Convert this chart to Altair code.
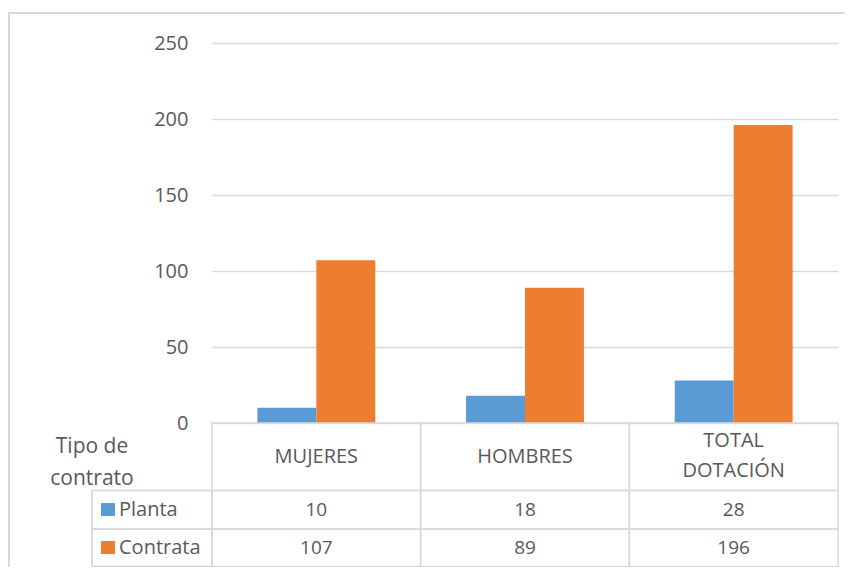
import altair as alt
import pandas as pd

categories = ["MUJERES", "HOMBRES", "TOTAL DOTACIÓN"]
header_labels = ["MUJERES", "HOMBRES", "TOTAL\nDOTACIÓN"]
series = ["Planta", "Contrata"]
planta = [10, 18, 28]
contrata = [107, 89, 196]
colors = ["#5B9BD5", "#ED7D31"]
y_ticks = [0, 50, 100, 150, 200, 250]
table_title = "Tipo de\ncontrato"

FONT = "Open Sans"
TXT = "#595959"
GRID = "#d9d9d9"

rows = []
for s, vals in zip(series, [planta, contrata]):
    for c, v in zip(categories, vals):
        rows.append({"category": c, "series": s, "value": v})
df = pd.DataFrame(rows)
hdr = pd.DataFrame({"category": categories, "header": header_labels})
leg = pd.DataFrame({"series": series})
ttl = pd.DataFrame({"t": [table_title]})

W, H = 626, 524
ZERO = 380

xscale = alt.Scale(domain=categories, paddingInner=0, paddingOuter=0)
cscale = alt.Scale(domain=series, range=colors)

bars = alt.Chart(df).mark_bar().encode(
    x=alt.X("category:N", scale=xscale, axis=None, sort=categories),
    xOffset=alt.XOffset("series:N", scale=alt.Scale(domain=series, paddingInner=0, paddingOuter=0.77)),
    y=alt.Y("value:Q", scale=alt.Scale(domain=[0, 250], range=[ZERO, 0]),
            axis=alt.Axis(values=y_ticks, title=None, grid=True, domain=False, ticks=False,
                          labelPadding=24, gridColor=GRID, gridWidth=1.5)),
    color=alt.Color("series:N", scale=cscale, legend=None),
)

layers = [bars]

# table cells
row_bounds = [(ZERO, 447.5), (447.5, 486), (486, 523.5)]
for (y1, y2) in row_bounds:
    layers.append(alt.Chart(hdr).mark_rect(fill="transparent", stroke=GRID, strokeWidth=1.5).encode(
        x=alt.X("category:N", scale=xscale, axis=None, sort=categories),
        y=alt.value(y1), y2=alt.value(y2)))

# legend column cells
for (y1, y2) in row_bounds[1:]:
    layers.append(alt.Chart(leg).mark_rect(fill="transparent", stroke=GRID, strokeWidth=1.5).encode(
        x=alt.value(-120), x2=alt.value(0), y=alt.value(y1), y2=alt.value(y2)))

# header labels (single-line and two-line)
is_multi = "indexof(datum.header, '\\n') >= 0"
layers.append(alt.Chart(hdr).transform_filter("!(" + is_multi + ")").mark_text(
    font=FONT, fontSize=20, color=TXT, baseline="middle").encode(
    x=alt.X("category:N", scale=xscale, axis=None, sort=categories),
    y=alt.value(414), text="header:N"))
layers.append(alt.Chart(hdr).transform_filter(is_multi).mark_text(
    font=FONT, fontSize=20, color=TXT, lineBreak="\n", lineHeight=30, baseline="middle").encode(
    x=alt.X("category:N", scale=xscale, axis=None, sort=categories),
    y=alt.value(398), text="header:N"))

# values + legend swatches/labels
row_centers = [466.5, 504.5]
for s, yc in zip(series, row_centers):
    sub = alt.Chart(df).transform_filter(alt.datum.series == s)
    layers.append(sub.mark_text(font=FONT, fontSize=19, color=TXT, baseline="middle").encode(
        x=alt.X("category:N", scale=xscale, axis=None, sort=categories),
        y=alt.value(yc), text="value:Q"))
    lsub = alt.Chart(leg).transform_filter(alt.datum.series == s)
    layers.append(lsub.mark_rect().encode(
        x=alt.value(-111), x2=alt.value(-97), y=alt.value(yc - 6.5), y2=alt.value(yc + 6.5),
        color=alt.Color("series:N", scale=cscale, legend=None)))
    layers.append(lsub.mark_text(font=FONT, fontSize=20, color=TXT, align="left", baseline="middle").encode(
        x=alt.value(-93), y=alt.value(yc), text="series:N"))

# table title
layers.append(alt.Chart(ttl).mark_text(font=FONT, fontSize=21, color=TXT, lineBreak="\n",
                                       lineHeight=32, align="center", baseline="middle").encode(
    x=alt.value(-120), y=alt.value(404), text="t:N"))

# outer border (clipped by the canvas on the right and bottom)
layers.append(alt.Chart(ttl).mark_rect(fill="transparent", stroke=GRID, strokeWidth=2).encode(
    x=alt.value(-203), x2=alt.value(700), y=alt.value(-30), y2=alt.value(600)))

chart = alt.layer(*layers).properties(
    width=W, height=H,
    autosize=alt.AutoSizeParams(type="none"),
    padding={"left": 204, "top": 35, "right": 7, "bottom": 0},
).configure_view(strokeWidth=0).configure_axis(
    labelFont=FONT, labelFontSize=20, labelColor=TXT
)

chart.save("out.html", embed_options={"renderer": "svg", "actions": False})
